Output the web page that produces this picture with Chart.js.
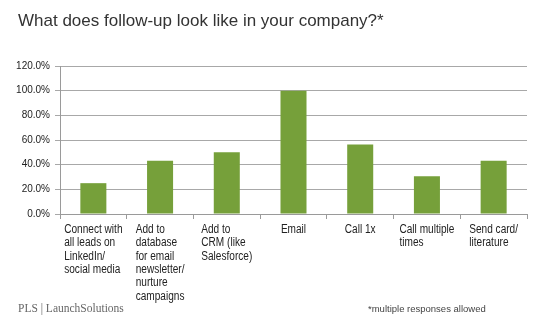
<!DOCTYPE html>
<html>
<head>
<meta charset="utf-8">
<script src="https://cdn.jsdelivr.net/npm/chart.js@4"></script>
<style>
  body { margin: 0; background: #fff; }
  #wrap { position: relative; width: 549px; height: 326px; overflow: hidden; }
  #chart { position: absolute; left: 0; top: 0; }
  .title { position: absolute; left: 18px; top: 11px; font: 17px "Liberation Sans", Arial, sans-serif; color: #333; white-space: nowrap; }
  .brand { position: absolute; left: 18px; top: 302px; font: 11.5px "Liberation Serif", serif; color: #666; white-space: nowrap; }
  .note { position: absolute; left: 368px; top: 303px; font: 9.5px "Liberation Sans", Arial, sans-serif; color: #444; white-space: nowrap; }
</style>
</head>
<body>
<div id="wrap">
  <canvas id="chart" width="549" height="326"></canvas>
  <div class="title">What does follow-up look like in your company?*</div>
  <div class="brand">PLS | LaunchSolutions</div>
  <div class="note">*multiple responses allowed</div>
</div>
<script>
const categories = [
    ['Connect with', 'all leads on', 'LinkedIn/', 'social media'],
    ['Add to', 'database', 'for email', 'newsletter/', 'nurture', 'campaigns'],
    ['Add to', 'CRM (like', 'Salesforce)'],
    ['Email'],
    ['Call 1x'],
    ['Call multiple', 'times'],
    ['Send card/', 'literature']
];
const shares = [25.0, 43.2, 50.0, 100.0, 56.3, 30.6, 43.2];
const yTicks = [0, 20, 40, 60, 80, 100, 120];

const labelFont = '12px "Liberation Sans", Arial, sans-serif';
const squeeze = 0.84; // no condensed face installed, so narrow the text by hand

// x labels: block centred on the category, lines left aligned (Excel style)
const leftLabels = {
    id: 'leftLabels',
    afterDraw(chart) {
        const ctx = chart.ctx;
        const xs = chart.scales.x;
        ctx.save();
        ctx.font = labelFont;
        ctx.fillStyle = '#222';
        ctx.textBaseline = 'alphabetic';
        ctx.textAlign = 'left';
        categories.forEach((lines, i) => {
            const cx = xs.getPixelForValue(i);
            const w = Math.max(...lines.map(l => ctx.measureText(l).width)) * squeeze;
            lines.forEach((l, j) => {
                ctx.save();
                ctx.translate(cx - w / 2, xs.top + 19 + j * 13.3);
                ctx.scale(squeeze, 1);
                ctx.fillText(l, 0, 0);
                ctx.restore();
            });
        });
        ctx.restore();
    }
};

const ctx = document.getElementById('chart');
new Chart(ctx, {
    type: 'bar',
    data: {
        labels: categories.map(c => c.join(' ')),
        datasets: [{
            data: shares,
            backgroundColor: '#76a03a',
            borderWidth: 0,
            barPercentage: 0.39,
            categoryPercentage: 1
        }]
    },
    options: {
        responsive: false,
        animation: false,
        layout: { padding: { top: 66, left: 0, right: 22, bottom: 0 } },
        plugins: { legend: { display: false }, tooltip: { enabled: false } },
        scales: {
            x: {
                afterFit(scale) { scale.height = 112; },
                grid: { offset: true, drawOnChartArea: false, drawTicks: true, tickLength: 5, color: '#9a9a9a' },
                border: { color: '#9a9a9a' },
                ticks: { display: false }
            },
            y: {
                min: 0,
                max: 120,
                afterFit(scale) { scale.width = 60; },
                afterBuildTicks(scale) { scale.ticks = yTicks.map(v => ({ value: v })); },
                grid: { color: '#a8a8a8', tickLength: 5 },
                border: { color: '#9a9a9a' },
                ticks: {
                    padding: 5,
                    color: '#222',
                    font: { family: '"Liberation Sans", Arial, sans-serif', size: 10 },
                    callback: v => v.toFixed(1) + '%'
                }
            }
        }
    },
    plugins: [leftLabels]
});
</script>
</body>
</html>
